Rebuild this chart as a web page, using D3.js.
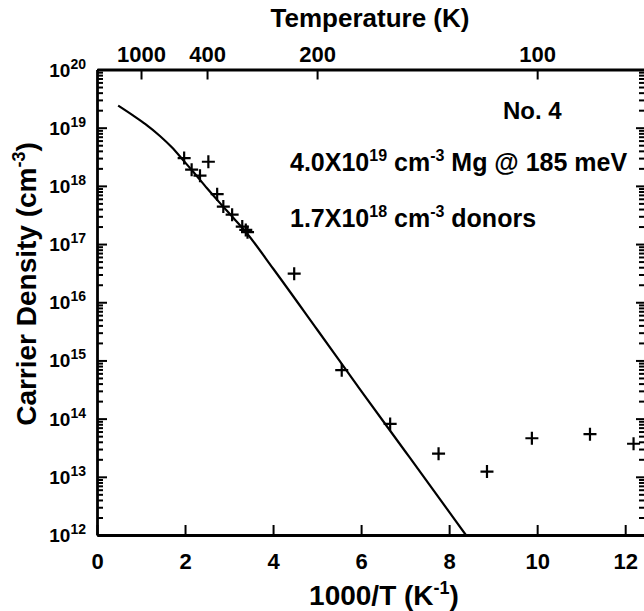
<!DOCTYPE html>
<html>
<head>
<meta charset="utf-8">
<script src="https://cdn.jsdelivr.net/npm/d3@7"></script>
<style>
  html, body { margin: 0; padding: 0; background: #fff; }
  svg { display: block; font-family: "Liberation Sans", Arial, Helvetica, sans-serif; font-weight: bold; }
  text { white-space: pre; fill: #000; }
</style>
</head>
<body>
<script>
// Hall carrier density vs inverse temperature, sample No. 4
const invTTicks = [0, 2, 4, 6, 8, 10, 12];
const tempTicks = [1000, 400, 200, 100];          // top axis, kelvin
const decadeExps = [12, 13, 14, 15, 16, 17, 18, 19, 20];

// measured points (1000/T in 1/K, density in cm^-3)
const measInvT = [1.98, 2.15, 2.34, 2.53, 2.73, 2.87, 3.07, 3.30, 3.38, 3.42,
                  4.48, 5.56, 6.66, 7.76, 8.86, 9.88, 11.20, 12.19];
const measDensity = [3.0e18, 1.9e18, 1.5e18, 2.6e18, 7.2e17, 4.4e17, 3.2e17, 2.0e17, 1.75e17, 1.6e17,
                     3.1e16, 6.8e14, 8.1e13, 2.5e13, 1.23e13, 4.6e13, 5.4e13, 3.7e13];

// fitted curve (acceptor 185 meV, compensated by donors)
const fitInvT = [0.48, 0.8, 1.1, 1.43, 1.7, 1.96, 2.2, 2.5, 2.8, 3.1, 3.4, 4.0, 5.0, 6.0, 7.0, 8.0, 8.38];
const fitDensity = [2.4e19, 1.66e19, 1.15e19, 7.2e18, 4.6e18, 2.75e18, 1.7e18, 9.1e17, 5.0e17, 2.8e17,
                    1.55e17, 3.8e16, 3.4e15, 3.0e14, 2.75e13, 2.5e12, 1.0e12];

const W = 644, H = 611;
const L = 97, R = 645, T = 69.5, B = 535;

const svg = d3.select("body").append("svg").attr("width", W).attr("height", H);

const x = d3.scaleLinear().domain([0, 12.45]).range([L, R]);
const y = d3.scaleLog().domain([1e12, 1e20]).range([B, T]);

const majors = decadeExps.map(e => Math.pow(10, e));
const minors = [];
for (let e = 12; e < 20; e++) for (let m = 2; m <= 9; m++) minors.push(m * Math.pow(10, e));

function styleAxis(g) {
  g.select(".domain").attr("stroke", "#000").attr("stroke-width", 2.8);
  g.selectAll(".tick line").attr("stroke", "#000").attr("stroke-width", 2);
}

// left axis: major + minor ticks pointing inward
const left = svg.append("g").attr("transform", `translate(${L},0)`)
  .call(d3.axisLeft(y).tickValues(majors).tickSizeInner(-10).tickSizeOuter(0).tickFormat(() => ""))
  .call(styleAxis);
left.selectAll(".tick text").remove();
left.selectAll(".tick").append("text")
  .attr("x", -11).attr("y", 6.5)
  .attr("text-anchor", "end")
  .attr("font-size", 19)
  .each(function(d) {
    const t = d3.select(this);
    t.append("tspan").text("10");
    t.append("tspan").attr("font-size", 14).attr("dy", -8).text(Math.round(Math.log10(d)));
  });
svg.append("g").attr("transform", `translate(${L},0)`)
  .call(d3.axisLeft(y).tickValues(minors).tickSizeInner(-6).tickSizeOuter(0).tickFormat(() => ""))
  .call(g => g.select(".domain").remove())
  .call(styleAxis);

// right axis: ticks only
svg.append("g").attr("transform", `translate(${R},0)`)
  .call(d3.axisRight(y).tickValues(majors).tickSizeInner(-9).tickSizeOuter(0).tickFormat(() => ""))
  .call(styleAxis);
svg.append("g").attr("transform", `translate(${R},0)`)
  .call(d3.axisRight(y).tickValues(minors).tickSizeInner(-6).tickSizeOuter(0).tickFormat(() => ""))
  .call(g => g.select(".domain").remove())
  .call(styleAxis);

// bottom axis: 1000/T
svg.append("g").attr("transform", `translate(0,${B})`)
  .call(d3.axisBottom(x).tickValues(invTTicks).tickSizeInner(-10).tickSizeOuter(0).tickPadding(18)
        .tickFormat(d3.format("d")))
  .call(styleAxis)
  .call(g => g.selectAll(".tick text").attr("font-size", 22).attr("fill", "#000"));

// top axis: temperature
svg.append("g").attr("transform", `translate(0,${T})`)
  .call(d3.axisTop(x).tickValues(tempTicks.map(t => 1000 / t)).tickSizeInner(-10).tickSizeOuter(0)
        .tickPadding(8).tickFormat((d, i) => tempTicks[i]))
  .call(styleAxis)
  .call(g => g.selectAll(".tick text").attr("font-size", 22).attr("fill", "#000"));

svg.selectAll("g").attr("font-family", null);

// axis titles
svg.append("text").attr("x", 370).attr("y", 27).attr("text-anchor", "middle")
  .attr("font-size", 26).text("Temperature (K)");

const xt = svg.append("text").attr("x", 384).attr("y", 605).attr("text-anchor", "middle").attr("font-size", 28);
xt.append("tspan").text("1000/T (K");
xt.append("tspan").attr("font-size", 18).attr("dy", -11).text("-1");
xt.append("tspan").attr("dy", 11).text(")");

const yt = svg.append("text").attr("transform", "translate(36,284) rotate(-90)")
  .attr("text-anchor", "middle").attr("font-size", 28);
yt.append("tspan").text("Carrier Density (cm");
yt.append("tspan").attr("font-size", 18).attr("dy", -11).text("-3");
yt.append("tspan").attr("dy", 11).text(")");

// fitted curve
svg.append("clipPath").attr("id", "plotClip")
  .append("rect").attr("x", L).attr("y", T).attr("width", R - L).attr("height", B - T);

const line = d3.line().x((d, i) => x(fitInvT[i])).y((d, i) => y(fitDensity[i])).curve(d3.curveMonotoneX);
svg.append("path").datum(fitInvT)
  .attr("clip-path", "url(#plotClip)")
  .attr("d", line).attr("fill", "none").attr("stroke", "#000").attr("stroke-width", 2.2);

// measured points as plus markers
svg.append("g").selectAll("path").data(measInvT).join("path")
  .attr("transform", (d, i) => `translate(${x(d)},${y(measDensity[i])})`)
  .attr("d", "M-6.5,0H6.5M0,-6.5V6.5")
  .attr("stroke", "#000").attr("stroke-width", 2.2).attr("fill", "none");

// annotations
svg.append("text").attr("x", 503).attr("y", 119).attr("font-size", 24).text("No. 4");

function supLine(xp, yp, parts) {
  const t = svg.append("text").attr("x", xp).attr("y", yp).attr("font-size", 25);
  let up = false;
  parts.forEach(([s, sup]) => {
    const sp = t.append("tspan").text(s);
    if (sup && !up) { sp.attr("font-size", 16).attr("dy", -10); up = true; }
    else if (!sup && up) { sp.attr("dy", 10); up = false; }
  });
}
supLine(290, 171, [["4.0X10", false], ["19", true], [" cm", false], ["-3", true], [" Mg @ 185 meV", false]]);
supLine(290, 227, [["1.7X10", false], ["18", true], [" cm", false], ["-3", true], [" donors", false]]);
</script>
</body>
</html>
